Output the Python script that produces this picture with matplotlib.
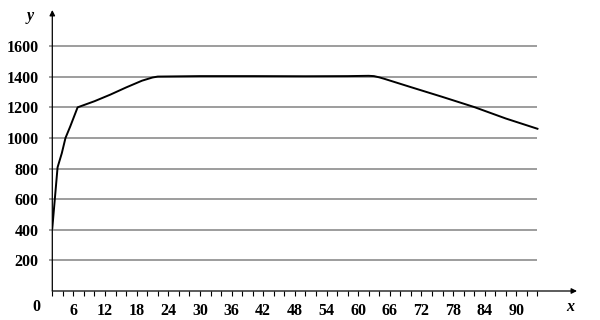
import matplotlib
matplotlib.use("Agg")
import matplotlib.pyplot as plt

# values
x_vals = [2, 3, 3.8, 4.5, 5.4, 6.8, 10, 13, 16, 19, 21, 22, 30, 40, 50, 58, 62, 63, 64, 65, 70, 76, 82, 88, 94]
y_vals = [410, 808, 900, 1000, 1075, 1200, 1240, 1283, 1330, 1374, 1395, 1401, 1404, 1404, 1403, 1404, 1406, 1404, 1396, 1386, 1332, 1268, 1202, 1127, 1060]

x_labels = [6, 12, 18, 24, 30, 36, 42, 48, 54, 60, 66, 72, 78, 84, 90]
x_minor = list(range(2, 95, 2))
y_levels = [200, 400, 600, 800, 1000, 1200, 1400, 1600]

plt.rcParams['font.family'] = ['Liberation Serif']
plt.rcParams['font.weight'] = 'bold'

fig = plt.figure(figsize=(6, 3.2), dpi=100)
ax = fig.add_axes([52.3 / 600, 29 / 320, (577 - 52.3) / 600, 281 / 320])
ax.set_xlim(2, 101.5)
ax.set_ylim(0, 1836)

for s in ax.spines.values():
    s.set_visible(False)

# horizontal grid lines, starting a little left of the y axis
ax.hlines(y_levels, 1.4, 94, color='#8c8c8c', lw=1.2, clip_on=False, zorder=1)

# curve
ax.plot(x_vals, y_vals, color='black', lw=1.4, zorder=3)

# axes with arrows
ax.annotate('', xy=(1, 0), xytext=(0, 0), xycoords='axes fraction',
            arrowprops=dict(arrowstyle='-|>', color='black', lw=0.9,
                            mutation_scale=8, shrinkA=0, shrinkB=0))
ax.annotate('', xy=(0, 1), xytext=(0, 0), xycoords='axes fraction',
            arrowprops=dict(arrowstyle='-|>', color='black', lw=0.9,
                            mutation_scale=8, shrinkA=0, shrinkB=0))

ax.set_xticks(x_minor, minor=True)
ax.set_xticks(x_labels)
ax.set_xticklabels([str(v) for v in x_labels], fontsize=11.5)
ax.tick_params(axis='x', which='both', direction='out', length=3.5, width=0.8, pad=5)

ax.set_yticks(y_levels)
ax.set_yticklabels([str(v) for v in y_levels], fontsize=11.5)
ax.tick_params(axis='y', length=0, pad=10)

fig.text(36 / 600, 1 - 307 / 320, '0', fontsize=11.5, ha='center', va='center')
fig.text(30 / 600, 1 - 16 / 320, 'y', fontsize=11.5, style='italic', ha='center', va='center')
fig.text(570 / 600, 1 - 307 / 320, 'x', fontsize=11.5, style='italic', ha='center', va='center')

fig.savefig('out.png', dpi=100)
